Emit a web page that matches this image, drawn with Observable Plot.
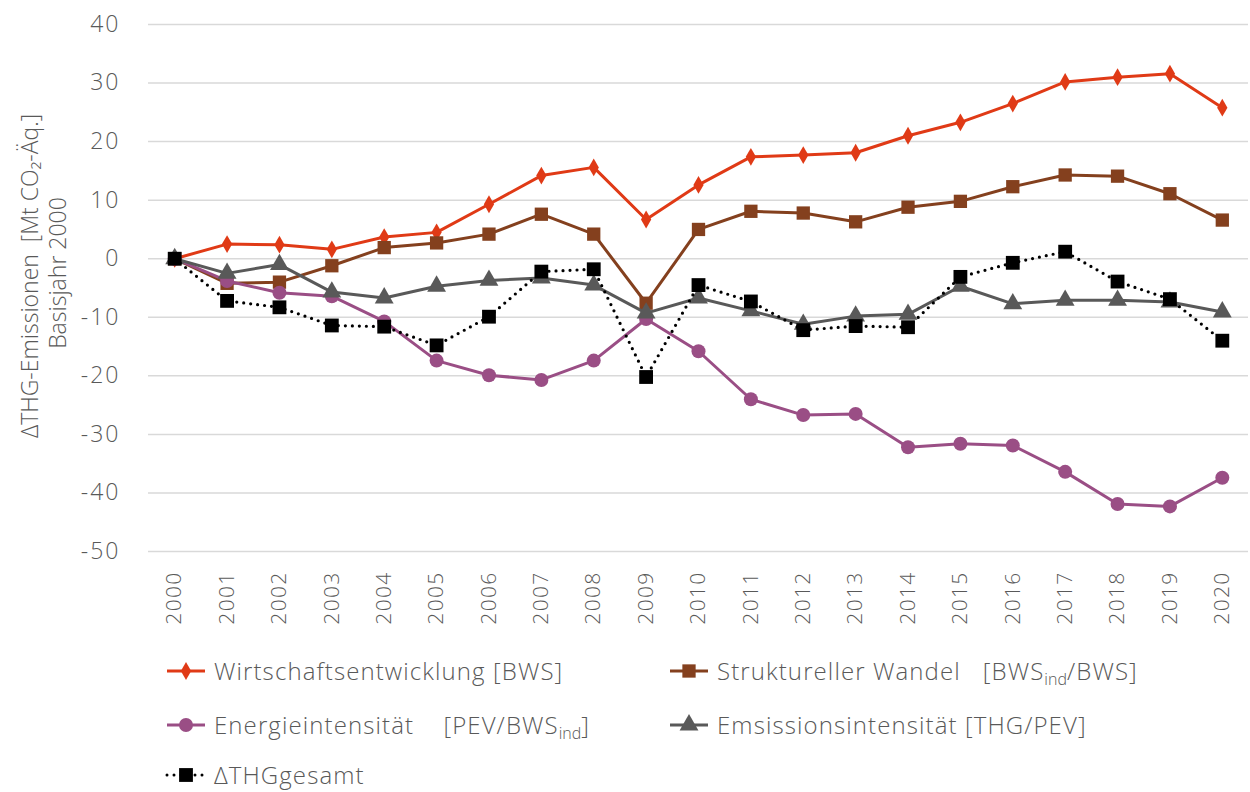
<!DOCTYPE html>
<html><head><meta charset="utf-8">
<script src="https://cdn.jsdelivr.net/npm/d3@7"></script>
<script src="https://cdn.jsdelivr.net/npm/@observablehq/plot@0.6"></script>
<style>
body{margin:0;background:#fff;font-family:"Open Sans",sans-serif;font-weight:300;color:#595959;}
#legend{position:relative;height:142px;width:1250px;font-size:24px;letter-spacing:1.1px;}
.item{position:absolute;display:flex;align-items:center;white-space:nowrap;}
.item svg{margin-right:7px;}
sub{font-size:16px;vertical-align:-5px;line-height:0;letter-spacing:0;}
</style></head>
<body><div id="chart"></div><div id="legend"></div>
<script>
const years = [2000,2001,2002,2003,2004,2005,2006,2007,2008,2009,2010,2011,2012,2013,2014,2015,2016,2017,2018,2019,2020];
const wirtschaft = [0,2.5,2.4,1.6,3.7,4.5,9.3,14.2,15.6,6.7,12.6,17.4,17.7,18.1,21.0,23.3,26.5,30.2,31.0,31.6,25.8];
const struktur = [0,-4.2,-4.0,-1.2,1.9,2.7,4.2,7.6,4.2,-7.6,5.0,8.1,7.8,6.3,8.8,9.8,12.3,14.3,14.1,11.1,6.6];
const energie = [0,-3.8,-5.8,-6.4,-10.7,-17.4,-19.9,-20.7,-17.4,-10.3,-15.8,-24.0,-26.7,-26.5,-32.2,-31.6,-31.9,-36.4,-41.9,-42.3,-37.4];
const emission = [0,-2.5,-1.0,-5.7,-6.7,-4.7,-3.7,-3.3,-4.5,-9.3,-6.7,-8.9,-11.2,-9.8,-9.5,-4.7,-7.7,-7.1,-7.1,-7.4,-9.1];
const gesamt = [0,-7.2,-8.3,-11.4,-11.6,-14.8,-9.9,-2.2,-1.8,-20.2,-4.5,-7.3,-12.2,-11.5,-11.7,-3.1,-0.7,1.2,-3.9,-6.9,-14.0];
const yTicks = [40,30,20,10,0,-10,-20,-30,-40,-50];
const yLabel1 = "ΔTHG-Emissionen  [Mt CO₂-Äq.]";
const yLabel2 = "Basisjahr 2000";

const series = [
  {name:"wirtschaft", values:wirtschaft, color:"#E03A16", symbol:"diamond", r:5.4, dash:null},
  {name:"struktur", values:struktur, color:"#84401E", symbol:"square", r:7.5, dash:null},
  {name:"energie", values:energie, color:"#9A4E85", symbol:"circle", r:7, dash:null},
  {name:"emission", values:emission, color:"#595959", symbol:"triangle", r:7, dash:null},
  {name:"gesamt", values:gesamt, color:"#000000", symbol:"square", r:7.8, dash:"0 7"}
];

const marks = [Plot.gridY(yTicks, {stroke:"#d9d9d9", strokeOpacity:1, strokeWidth:1.5})];
for (const s of series) {
  const data = years.map((y,i)=>({year:y, v:s.values[i]}));
  marks.push(Plot.line(data, {x:"year", y:"v", stroke:s.color, strokeWidth:s.dash?3.2:3, strokeDasharray:s.dash, strokeLinecap:"round", strokeLinejoin:"round"}));
  marks.push(Plot.dot(data, {x:"year", y:"v", fill:s.color, symbol:()=>s.symbol, r:s.r, stroke:"none"}));
}
marks.push(Plot.axisY({ticks:yTicks, tickFormat:d=>String(d), tickSize:0, tickPadding:28, label:null, fontSize:23}));
marks.push(Plot.axisX({ticks:years, tickFormat:d=>String(d), tickRotate:-90, tickSize:0, tickPadding:20, label:null, fontSize:21}));
marks.push(Plot.text([yLabel1], {text:d=>d, frameAnchor:"left", textAnchor:"middle", rotate:-90, dx:-118, dy:-12, fontSize:23, fill:"#595959"}));
marks.push(Plot.text([yLabel2], {text:d=>d, frameAnchor:"left", textAnchor:"middle", rotate:-90, dx:-90, dy:-15, fontSize:23, fill:"#595959"}));

const chart = Plot.plot({
  width:1250, height:652,
  marginTop:24, marginBottom:101, marginLeft:148, marginRight:2,
  x:{domain:[1999.5,2020.5]},
  y:{domain:[-50,40]},
  style:{fontFamily:"Open Sans", fontWeight:300, color:"#595959", fontSize:"20px", background:"#fff"},
  marks
});
document.getElementById("chart").appendChild(chart);
d3.select(chart).selectAll("g[aria-label='x-axis tick label'] text").style("letter-spacing","1.3px");
d3.select(chart).selectAll("g[aria-label='y-axis tick label'] text").style("letter-spacing","2px");

const legendItems = [
  {s:0, x:165, y:19, html:"Wirtschaftsentwicklung [BWS]"},
  {s:1, x:668, y:19, html:"Struktureller Wandel&nbsp;&nbsp;&nbsp;[BWS<sub>ind</sub>/BWS]"},
  {s:2, x:165, y:73, html:"Energieintensität&nbsp;&nbsp;&nbsp;&nbsp;[PEV/BWS<sub>ind</sub>]"},
  {s:3, x:668, y:73, html:"Emsissionsintensität [THG/PEV]"},
  {s:4, x:165, y:123, html:"ΔTHGgesamt"}
];
const leg = document.getElementById("legend");
for (const it of legendItems) {
  const s = series[it.s];
  const div = document.createElement("div");
  div.className = "item";
  div.style.left = it.x + "px";
  div.style.top = (it.y - 17) + "px";
  const sym = d3.symbol().type({diamond:d3.symbolDiamond, square:d3.symbolSquare, circle:d3.symbolCircle, triangle:d3.symbolTriangle}[s.symbol]).size(Math.PI*s.r*s.r)();
  div.innerHTML = `<svg width="42" height="30"><line x1="2" x2="40" y1="15" y2="15" stroke="${s.color}" stroke-width="3" ${s.dash?`stroke-dasharray="${s.dash}" stroke-linecap="round"`:""}/><path d="${sym}" transform="translate(21,15)" fill="${s.color}"/></svg><span>${it.html}</span>`;
  leg.appendChild(div);
}
</script></body></html>
